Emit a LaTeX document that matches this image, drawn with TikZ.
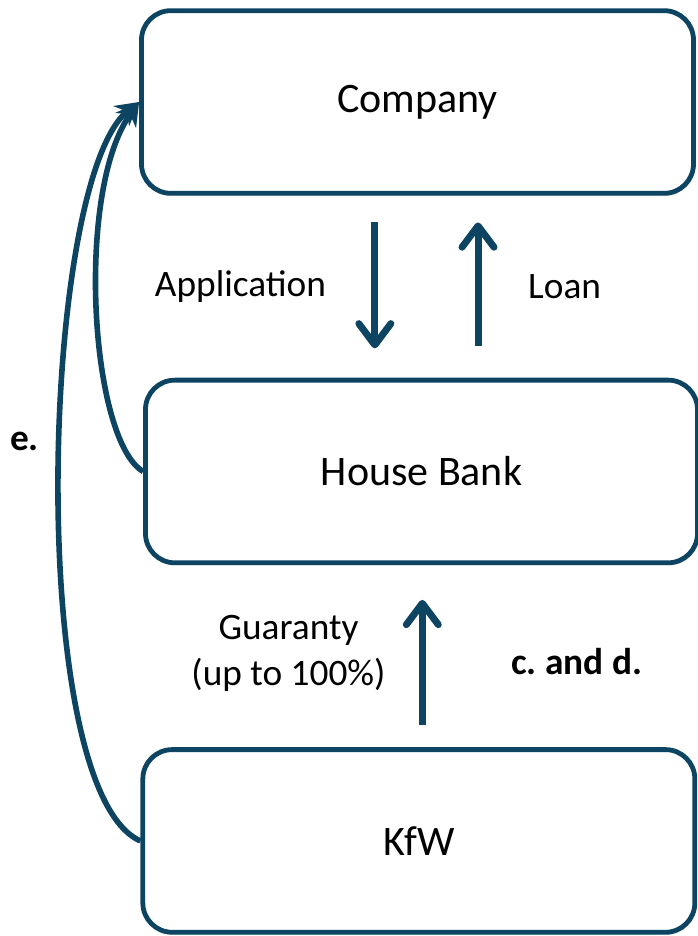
\documentclass[tikz,border=0pt]{standalone}
\usepackage{fontspec}
\setmainfont{Carlito}
\usetikzlibrary{arrows.meta}
\usetikzlibrary{positioning}
\usetikzlibrary{shadows}

\definecolor{flowBlue}{HTML}{0C4462}

\begin{document}
\begin{tikzpicture}[
    x=0.75pt, y=-0.75pt,
    node distance=136.5pt,
    partyBox/.style={
        rectangle, draw=flowBlue, fill=white,
        rounded corners=22pt,
        line width=3.6pt,
        minimum width=414pt,
        minimum height=137pt,
        font=\fontsize{31.5}{38}\selectfont,
        drop shadow={shadow xshift=1pt, shadow yshift=-2pt, opacity=0.2}
    },
    flowArrow/.style={
        draw=flowBlue, line width=5.2pt,
        -{Straight Barb[round, length=16pt, width=24pt]}
    },
    loopArrow/.style={
        draw=flowBlue, line width=4.2pt,
        -{Stealth[length=17pt, width=19pt]}
    },
    flowLabel/.style={
        inner sep=0pt, align=center,
        font=\fontsize{28}{35}\selectfont
    },
    stepTag/.style={
        flowLabel,
        font=\fontsize{28}{35}\selectfont\bfseries
    }
]
\useasboundingbox (0,0) rectangle (697,936);
\node[partyBox] (company) at (417.5,102) {Company};
\node[partyBox, below=of company, xshift=3pt] (bank) {House Bank};
\node[partyBox, below=of bank, xshift=-2pt] (kfw) {KfW};
\draw[flowArrow, shorten <=20pt, shorten >=22pt] ([xshift=-32pt]company.south) -- ([xshift=-32pt]company.south |- bank.north)
    node[flowLabel, midway, left=34pt] {Application};
\draw[flowArrow, shorten <=24pt, shorten >=20pt] ([xshift=45.4pt]company.south |- bank.north) -- ([xshift=45.4pt]company.south)
    node[flowLabel, midway, right=35pt] {Loan};
\draw[flowArrow, shorten <=17pt, shorten >=26pt] ([xshift=2.6pt]kfw.north) -- ([xshift=2.6pt]kfw.north |- bank.south)
    node[flowLabel, midway, left=25pt, yshift=2pt] {Guaranty\\(up to 100\%)}
    node[stepTag, midway, right=64pt, yshift=-4pt] {c.\ and d.};
\draw[loopArrow] (kfw.west) .. controls (25,790) and (40,180) .. (company.west)
    node[stepTag, pos=0.54, left=14pt] {e.};
\draw[loopArrow] (bank.west) .. controls (90,440) and (75,190) .. (company.west);
\end{tikzpicture}
\end{document}
